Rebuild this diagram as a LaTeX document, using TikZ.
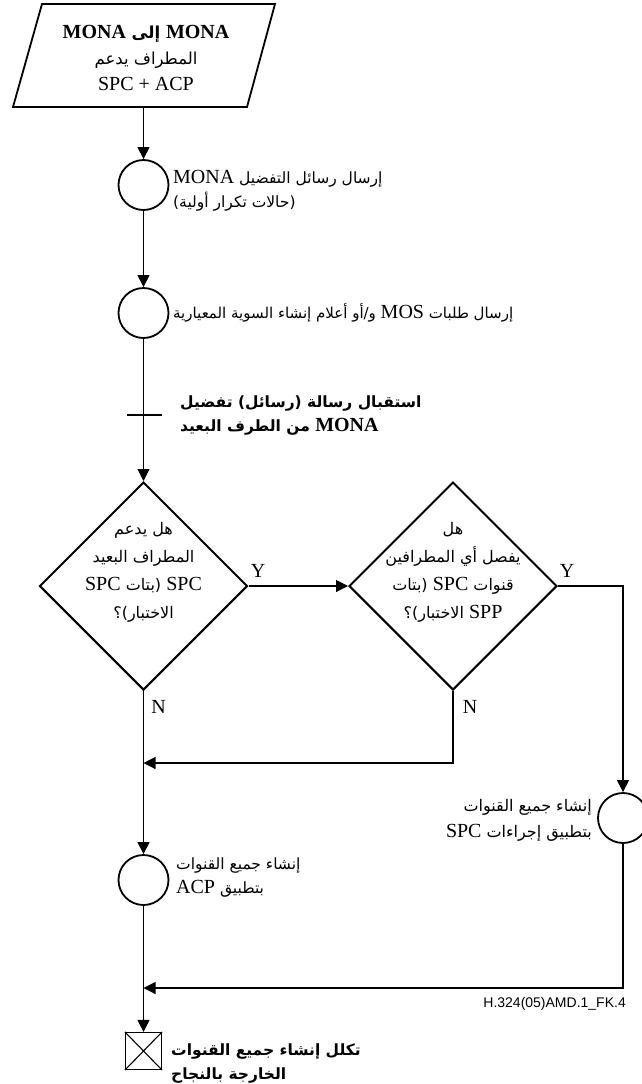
\documentclass[tikz,border=0pt]{standalone}
\usepackage{fontspec}
\setmainfont{Liberation Serif}
\newfontfamily\arfont[Script=Arabic]{DejaVu Sans}
\newfontfamily\latfont{Liberation Serif}
\newfontfamily\lblfont{Liberation Sans}
\TeXXeTstate=1
\usetikzlibrary{shapes.geometric,arrows.meta}
\newcommand\myR[1]{\beginR #1\endR}
\newcommand\myL[1]{\beginL{\latfont\fontsize{20}{24}\selectfont #1}\endL}
\tikzset{
  shapeline/.style={draw, line width=1.8pt},
  conn/.style={line width=1.1pt},
  arr/.style={conn, -{Triangle[length=12pt,width=12pt]}},
  circ/.style={circle, draw, line width=1.8pt, minimum size=50pt, inner sep=0pt},
  dia/.style={diamond, draw, line width=2pt, minimum width=208pt, minimum height=208pt, inner sep=0pt, aspect=1},
  artxt/.style={font=\arfont\fontsize{15.5}{24}\selectfont, inner sep=0pt},
  yn/.style={font=\latfont\fontsize{20}{22}\selectfont, inner sep=0pt},
}
\begin{document}
\begin{tikzpicture}[x=1pt,y=-1pt]
\useasboundingbox (0,0) rectangle (641,1084);
% parallelogram
\coordinate (pa) at (13,107);
\coordinate (pb) at (42,4);
\coordinate (pc) at (275,4);
\coordinate (pd) at (247,107);
\coordinate (parb) at (143.5,107);
\draw[shapeline] (pa) -- (pb) -- (pc) -- (pd) -- cycle;
\node[artxt, align=center, font=\arfont\fontsize{16.5}{26}\selectfont] (par) at (146,58)
  {\bfseries\myR{\myL{MONA} إلى \myL{MONA}}\\ \myR{المطراف يدعم}\\ {\latfont\fontsize{20}{24}\selectfont SPC + ACP}};
% circles
\node[circ] (c1) at (143.5,185) {};
\node[circ] (c2) at (143.5,313) {};
\node[circ] (c3) at (143.5,880) {};
\node[circ] (c4) at (623,818) {};
\node[artxt, align=left, anchor=west] (c1t) at (173,191)
  {\myR{إرسال رسائل التفضيل \myL{MONA}}\\ \myR{(حالات تكرار أولية)}};
\node[artxt, anchor=west, font=\arfont\fontsize{15}{24}\selectfont] (c2t) at (173,313)
  {\myR{إرسال طلبات \myL{MOS} و/أو أعلام إنشاء السوية المعيارية}};
\node[artxt, align=left, anchor=west] (c3t) at (176,877)
  {\myR{إنشاء جميع القنوات}\\ \myR{بتطبيق \myL{ACP}}};
\node[artxt, align=right, anchor=east, font=\arfont\fontsize{16}{26}\selectfont] (c4t) at (592,820)
  {\myR{إنشاء جميع القنوات}\\ \myR{بتطبيق إجراءات \myL{SPC}}};
% signal
\coordinate (tk1) at (127,415);
\coordinate (tk2) at (162,415);
\node[artxt, align=left, anchor=west] (sig) at (180,415)
  {\bfseries\myR{استقبال رسالة (رسائل) تفضيل}\\ \bfseries\myR{\myL{MONA} من الطرف البعيد}};
% diamonds
\node[dia] (d1) at (143.5,586) {};
\node[dia] (d2) at (453,586) {};
\node[artxt, align=center, font=\arfont\fontsize{16}{28}\selectfont] (d1t) at (143.5,572)
  {\myR{هل يدعم}\\ \myR{المطراف البعيد}\\ \myR{\myL{SPC} (بتات \myL{SPC}}\\ \myR{الاختبار)؟}};
\node[artxt, align=center, font=\arfont\fontsize{16}{28}\selectfont] (d2t) at (453,572)
  {\myR{هل}\\ \myR{يفصل أي المطرافين}\\ \myR{قنوات \myL{SPC} (بتات}\\ \myR{\myL{SPP} الاختبار)؟}};
\node[yn] (y1) at (258,571) {Y};
\node[yn] (y2) at (567,571) {Y};
\node[yn] (n1) at (158.5,707) {N};
\node[yn] (n2) at (470,707) {N};
% terminal box
\node[draw, line width=1.2pt, minimum width=36pt, minimum height=37pt, inner sep=0pt] (box) at (143.5,1051) {};
\draw[conn] (box.north west) -- (box.south east);
\draw[conn] (box.north east) -- (box.south west);
\node[artxt, align=left, anchor=west] (fin) at (171,1063)
  {\bfseries\myR{تكلل إنشاء جميع القنوات}\\ \bfseries\myR{الخارجة بالنجاح}};
\node[inner sep=0pt, anchor=east, font=\lblfont\fontsize{14}{16}\selectfont] (lbl) at (626,1004) {H.324(05)AMD.1\_FK.4};
% junctions
\coordinate (j1) at (143.5,763);
\coordinate (j2) at (143.5,988);
% connectors
\draw[arr] (parb) -- (c1.north);
\draw[arr] (c1.south) -- (c2.north);
\draw[arr] (c2.south) -- (d1.north);
\draw[conn] (tk1) -- (tk2);
\draw[arr] (d1.east) -- (d2.west);
\draw[arr] (d2.east) -| (c4.north);
\draw[arr] (d2.south) |- (j1);
\draw[arr] (d1.south) -- (c3.north);
\draw[arr] (c4.south) |- (j2);
\draw[arr] (c3.south) -- (box.north);
\end{tikzpicture}
\end{document}
